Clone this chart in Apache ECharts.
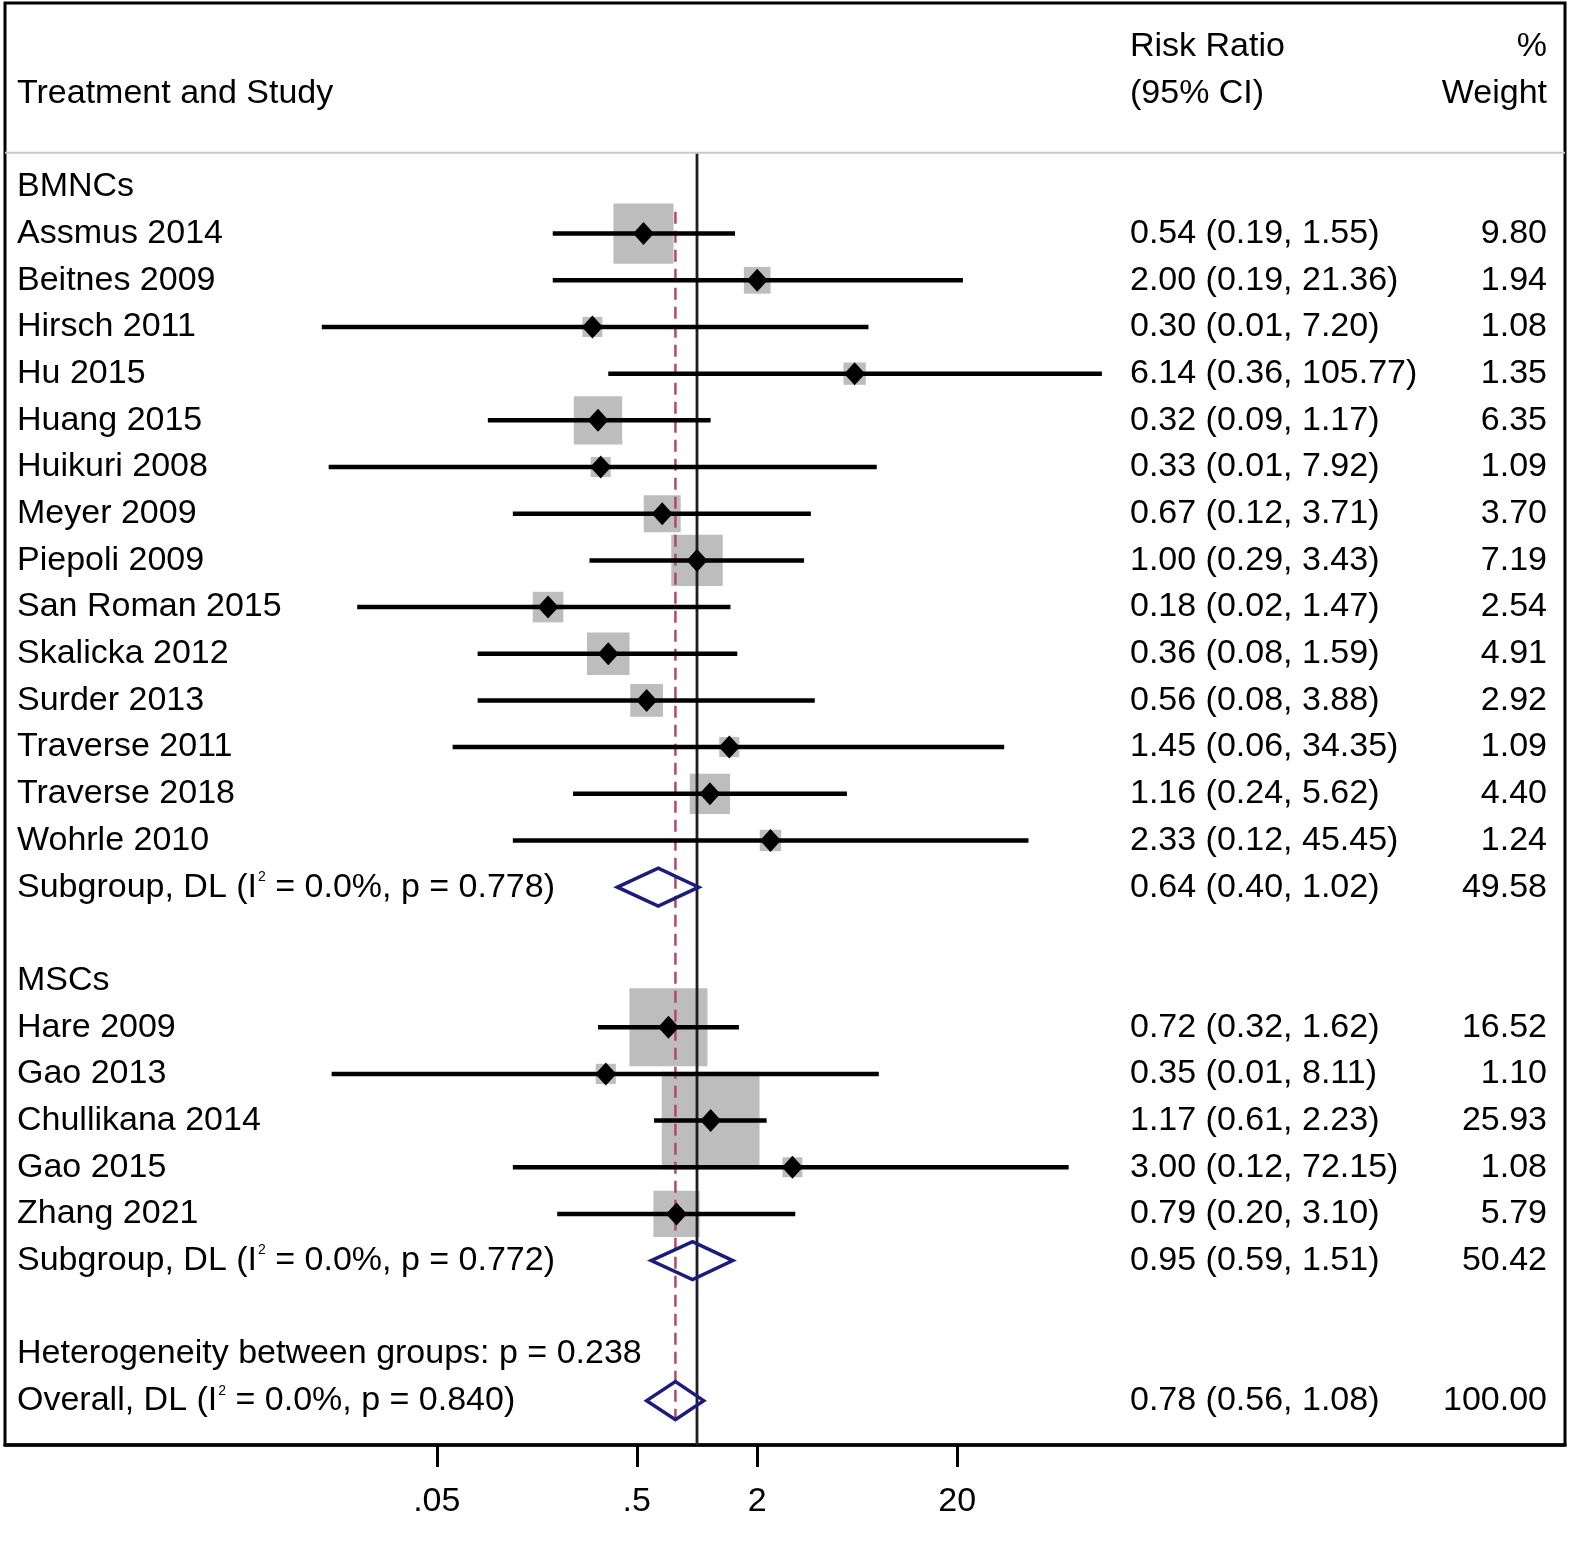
<!DOCTYPE html>
<html>
<head>
<meta charset="utf-8">
<script src="https://cdn.jsdelivr.net/npm/echarts@6/dist/echarts.min.js"></script>
<style>
html,body{margin:0;padding:0;background:#fff;}
#chart{width:1594px;height:1541px;}
</style>
</head>
<body>
<div id="chart"></div>
<script>
// ---------------- DATA ----------------
const bmncStudies = ["Assmus 2014","Beitnes 2009","Hirsch 2011","Hu 2015","Huang 2015","Huikuri 2008","Meyer 2009","Piepoli 2009","San Roman 2015","Skalicka 2012","Surder 2013","Traverse 2011","Traverse 2018","Wohrle 2010"];
const bmncRR     = [0.54, 2.00, 0.30, 6.14, 0.32, 0.33, 0.67, 1.00, 0.18, 0.36, 0.56, 1.45, 1.16, 2.33];
const bmncLo     = [0.19, 0.19, 0.0133, 0.36, 0.09, 0.0144, 0.12, 0.29, 0.02, 0.08, 0.08, 0.06, 0.24, 0.12];
const bmncHi     = [1.55, 21.36, 7.20, 105.77, 1.17, 7.92, 3.71, 3.43, 1.47, 1.59, 3.88, 34.35, 5.62, 45.45];
const bmncWeight = [9.80, 1.94, 1.08, 1.35, 6.35, 1.09, 3.70, 7.19, 2.54, 4.91, 2.92, 1.09, 4.40, 1.24];

const mscStudies = ["Hare 2009","Gao 2013","Chullikana 2014","Gao 2015","Zhang 2021"];
const mscRR      = [0.72, 0.35, 1.17, 3.00, 0.79];
const mscLo      = [0.32, 0.0149, 0.61, 0.12, 0.20];
const mscHi      = [1.62, 8.11, 2.23, 72.15, 3.10];
const mscWeight  = [16.52, 1.10, 25.93, 1.08, 5.79];

const groupNames     = ["BMNCs", "MSCs"];
const subgroupRR     = [0.64, 0.95];
const subgroupLo     = [0.40, 0.59];
const subgroupHi     = [1.02, 1.51];
const subgroupWeight = [49.58, 50.42];
const subgroupI2     = ["0.0", "0.0"];
const subgroupP      = ["0.778", "0.772"];

const heterogeneityP = "0.238";
const overallRR = 0.78, overallLo = 0.56, overallHi = 1.08, overallWeight = 100.00;
const overallI2 = "0.0", overallP = "0.840";

const xTickValues = [0.05, 0.5, 2, 20];
const xTickLabels = [".05", ".5", "2", "20"];

// ---------------- LAYOUT HELPERS ----------------
const FONT = "'Liberation Sans', Arial, sans-serif";
const FS = 34;
const L = Math.log10;
const fmt = v => v.toFixed(2);

const rows = [];          // text rows
const studyData = [];     // [logRR,row,logLo,logHi,weight]
const pooledData = [];    // [logRR,row,logLo,logHi]

rows.push({row: -3, label: "", ci: "Risk Ratio", w: "%"});
rows.push({row: -2, label: "Treatment and Study", ci: "(95% CI)", w: "Weight"});

let r = 0;
const groups = [
  {name: groupNames[0], s: bmncStudies, rr: bmncRR, lo: bmncLo, hi: bmncHi, w: bmncWeight},
  {name: groupNames[1], s: mscStudies, rr: mscRR, lo: mscLo, hi: mscHi, w: mscWeight}
];
groups.forEach((g, gi) => {
  rows.push({row: r, label: g.name, ci: "", w: ""});
  r++;
  g.s.forEach((name, i) => {
    rows.push({row: r, label: name, ci: fmt(g.rr[i]) + " (" + fmt(g.lo[i]) + ", " + fmt(g.hi[i]) + ")", w: fmt(g.w[i])});
    studyData.push([L(g.rr[i]), r, L(g.lo[i]), L(g.hi[i]), g.w[i]]);
    r++;
  });
  rows.push({row: r, label: "Subgroup, DL (I{sup|2} = " + subgroupI2[gi] + "%, p = " + subgroupP[gi] + ")",
             ci: fmt(subgroupRR[gi]) + " (" + fmt(subgroupLo[gi]) + ", " + fmt(subgroupHi[gi]) + ")", w: fmt(subgroupWeight[gi])});
  pooledData.push([L(subgroupRR[gi]), r, L(subgroupLo[gi]), L(subgroupHi[gi])]);
  r += 2;
});
rows.push({row: r, label: "Heterogeneity between groups: p = " + heterogeneityP, ci: "", w: ""});
r++;
rows.push({row: r, label: "Overall, DL (I{sup|2} = " + overallI2 + "%, p = " + overallP + ")",
           ci: fmt(overallRR) + " (" + fmt(overallLo) + ", " + fmt(overallHi) + ")", w: fmt(overallWeight)});
pooledData.push([L(overallRR), r, L(overallLo), L(overallHi)]);
const lastRow = r;

const Y_MIN = -3.94, Y_MAX = 26.95;
const X_MIN = -3.46, X_MAX = 4.34;
const BOX_K = 19.2;

const chart = echarts.init(document.getElementById('chart'), null, {renderer: 'canvas'});

const textStyleBase = {fontFamily: FONT, fontSize: FS, fill: '#000'};

const option = {
  backgroundColor: '#fff',
  animation: false,
  grid: {left: 5, right: 29, top: 3, bottom: 96, show: true, borderColor: '#000', borderWidth: 3, backgroundColor: 'transparent'},
  xAxis: {
    type: 'value', min: X_MIN, max: X_MAX,
    splitLine: {show: false},
    axisLine: {show: true, onZero: false, lineStyle: {color: '#000', width: 3.5}},
    axisTick: {show: true, length: 22, lineStyle: {color: '#000', width: 3}, customValues: xTickValues.map(L)},
    axisLabel: {
      customValues: xTickValues.map(L),
      fontFamily: FONT, fontSize: FS, color: '#000', margin: 40,
      formatter: v => {
        let k = 0, best = 1e9;
        xTickValues.forEach((t, i) => { const d = Math.abs(L(t) - v); if (d < best) { best = d; k = i; } });
        return xTickLabels[k];
      }
    }
  },
  yAxis: {
    type: 'value', inverse: true, min: Y_MIN, max: Y_MAX, show: false,
    splitLine: {show: false}
  },
  series: [
    // weight boxes
    {
      type: 'custom', z: 1, data: studyData, encode: {x: 0, y: 1},
      renderItem: (params, api) => {
        const c = api.coord([api.value(0), api.value(1)]);
        const s = BOX_K * Math.sqrt(api.value(4));
        return {type: 'rect', shape: {x: c[0] - s / 2, y: c[1] - s / 2, width: s, height: s}, style: {fill: '#bdbdbd'}};
      }
    },
    // reference lines + header separator
    {
      type: 'custom', z: 2, data: [[0, 0]], encode: {x: 0, y: 1},
      renderItem: (params, api) => {
        const cs = params.coordSys;
        const ySep = api.coord([0, -0.73])[1];
        const xOne = api.coord([0, 0])[0];
        const xOv = api.coord([L(overallRR), 0])[0];
        return {type: 'group', children: [
          {type: 'line', shape: {x1: cs.x, y1: ySep, x2: cs.x + cs.width, y2: ySep}, style: {stroke: '#c8c8c8', lineWidth: 2}},
          {type: 'line', shape: {x1: xOne, y1: ySep + 1, x2: xOne, y2: cs.y + cs.height}, style: {stroke: '#1e1e1e', lineWidth: 2.8}},
          {type: 'line', shape: {x1: xOv, y1: api.coord([0, 0.53])[1], x2: xOv, y2: api.coord([0, lastRow + 0.4])[1]},
           style: {stroke: '#a65068', lineWidth: 2.5, lineDash: [12, 7]}}
        ]};
      }
    },
    // CI lines and point markers
    {
      type: 'custom', z: 3, data: studyData, encode: {x: 0, y: 1},
      renderItem: (params, api) => {
        const y = api.coord([0, api.value(1)])[1];
        const x0 = api.coord([api.value(2), 0])[0];
        const x1 = api.coord([api.value(3), 0])[0];
        const xc = api.coord([api.value(0), 0])[0];
        return {type: 'group', children: [
          {type: 'line', shape: {x1: x0, y1: y, x2: x1, y2: y}, style: {stroke: '#000', lineWidth: 4.5}},
          {type: 'polygon', shape: {points: [[xc, y - 11.5], [xc + 10.5, y], [xc, y + 11.5], [xc - 10.5, y]]}, style: {fill: '#000'}}
        ]};
      }
    },
    // pooled diamonds
    {
      type: 'custom', z: 3, data: pooledData, encode: {x: 0, y: 1},
      renderItem: (params, api) => {
        const y = api.coord([0, api.value(1)])[1];
        const x0 = api.coord([api.value(2), 0])[0];
        const x1 = api.coord([api.value(3), 0])[0];
        const xc = api.coord([api.value(0), 0])[0];
        const h = 19;
        return {type: 'polygon', shape: {points: [[x0, y], [xc, y - h], [x1, y], [xc, y + h]]},
                style: {fill: 'none', stroke: '#1c1c7a', lineWidth: 3.5, lineJoin: 'miter'}};
      }
    },
    // text columns
    {
      type: 'custom', z: 4, data: rows.map(o => [0, o.row]), encode: {x: 0, y: 1},
      renderItem: (params, api) => {
        const o = rows[params.dataIndex];
        const cs = params.coordSys;
        const y = api.coord([0, api.value(1)])[1];
        const children = [];
        const rich = {sup: {fontFamily: FONT, fontSize: 14, verticalAlign: 'top', fill: '#000', padding: [0, 0, 14, 1]}};
        if (o.label) children.push({type: 'text', style: Object.assign({}, textStyleBase, {text: o.label, x: cs.x + 12, y: y, verticalAlign: 'middle', align: 'left', rich: rich})});
        if (o.ci) children.push({type: 'text', style: Object.assign({}, textStyleBase, {text: o.ci, x: 1130, y: y, verticalAlign: 'middle', align: 'left'})});
        if (o.w) children.push({type: 'text', style: Object.assign({}, textStyleBase, {text: o.w, x: 1547, y: y, verticalAlign: 'middle', align: 'right'})});
        return {type: 'group', children: children};
      }
    }
  ]
};
chart.setOption(option);
</script>
</body>
</html>
